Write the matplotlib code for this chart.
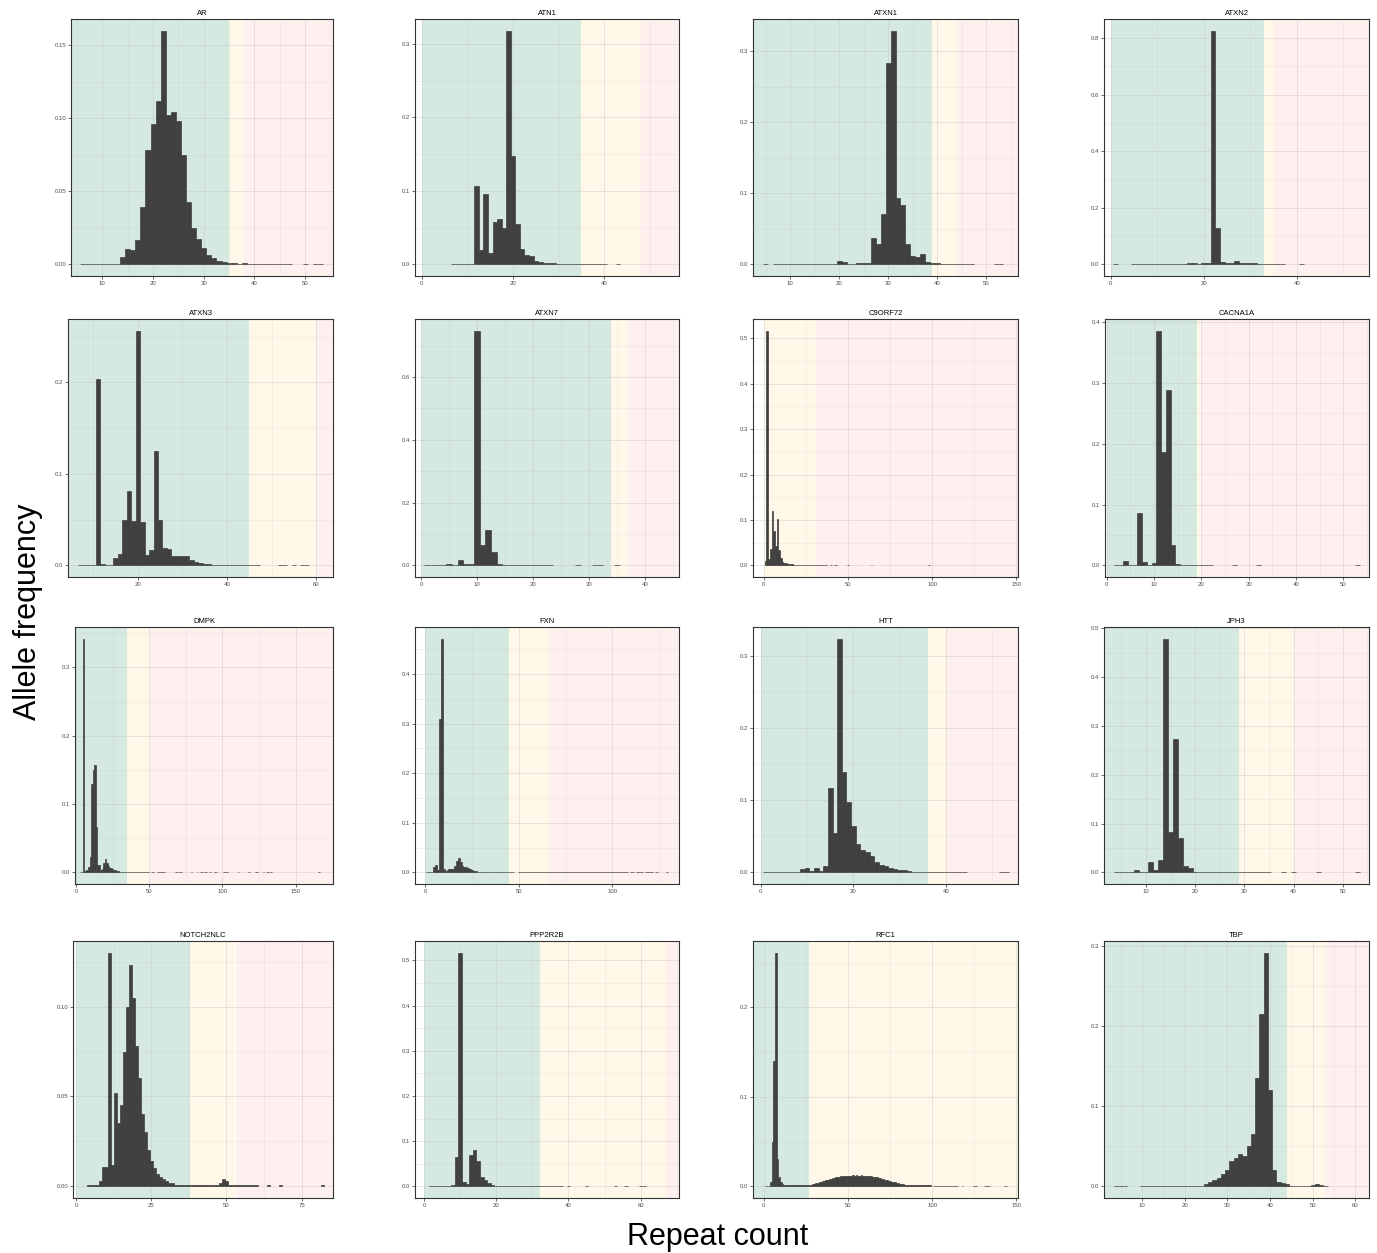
import numpy as np
import matplotlib.pyplot as plt
from matplotlib.ticker import MultipleLocator, FormatStrFormatter

plt.rcParams['font.family'] = ['Liberation Sans', 'DejaVu Sans']

# --- data: allele frequency per repeat count ---
# *_start = repeat count of first value in *_freq, *_trace = runs of rare alleles (trace level)
TRACE = 0.0005

AR_start = 14
AR_freq = [.0052, .0104, .0098, .0166, .039, .0785, .096, .112, .160, .102, .104, .098,
           .0746, .0426, .0247, .0172, .0109, .0063, .0041, .002, .0014, .001, .0008, .0005, .0008]
AR_trace = [(6, 13), (39, 47), (50, 50), (52, 53)]

ATN1_start = 12
ATN1_freq = [.106, .020, .096, .016, .057, .0615, .050, .318, .148, .055, .021, .013, .011,
             .005, .003, .002, .0015, .0015, .001]
ATN1_trace = [(7, 11), (31, 40), (43, 43)]

ATXN1_start = 20
ATXN1_freq = [.004, .003, .001, .001, .002, .002, .002, .037, .0285, .0707, .283, .329, .093,
              .084, .0285, .0117, .0103, .0145, .0033, .002, .0015]
ATXN1_trace = [(5, 5), (7, 19), (41, 47), (52, 53)]

ATXN2_start = 15
ATXN2_freq = [.002, .0005, .006, .003, .0005, .003, .003, .826, .127, .0094, .006, .003, .0106,
              .004, .004, .004, .003, .001, .001, .001, .001, .001, .001]
ATXN2_trace = [(1, 1), (5, 14), (41, 41)]

ATXN3_start = 11
ATXN3_freq = [.204, .0015, .0005, .0005, .0077, .0124, .0496, .0814, .0485, .2566, .0474, .011,
              .0168, .1245, .0496, .0186, .0175, .0106, .0106, .0106, .0106, .0058, .004, .0026,
              .0015, .0015]
ATXN3_trace = [(7, 10), (37, 47), (52, 53), (55, 55), (57, 58)]

ATXN7_start = 5
ATXN7_freq = [.003, .0005, .017, .003, .003, .748, .064, .112, .0416, .004]
ATXN7_trace = [(1, 4), (15, 23), (28, 28), (31, 32), (35, 35)]

C9ORF72_start = 1
C9ORF72_freq = [.01, .517, .013, .035, .119, .075, .043, .101, .033, .015, .007, .005, .004,
                .003, .002, .002, .002]
C9ORF72_trace = [(18, 37), (40, 40), (42, 43), (50, 50), (64, 64), (98, 98)]

CACNA1A_start = 4
CACNA1A_freq = [.0066, .0005, .0005, .0858, .005, .0005, .0033, .386, .187, .289, .033, .0017]
CACNA1A_trace = [(2, 3), (16, 22), (27, 27), (32, 32), (53, 53)]

DMPK_start = 5
DMPK_freq = [.342, .002, .004, .004, .008, .023, .13, .15, .157, .067, .01, .011, .004, .005,
             .013, .019, .013, .009, .007, .006, .005, .004, .003, .002, .002, .001]
DMPK_trace = [(3, 4), (31, 49), (52, 53), (56, 60), (68, 69), (71, 72), (79, 79), (83, 83),
              (85, 86), (88, 89), (91, 92), (95, 96), (101, 103), (111, 111), (118, 118),
              (123, 124), (128, 128), (130, 131), (133, 133), (166, 166)]

FXN_start = 5
FXN_freq = [.011, .015, .004, .31, .4715, .007, .003, .005, .007, .007, .007, .013, .022, .029,
            .02, .013, .011, .01, .008, .006, .005, .003, .002, .0015]
FXN_trace = [(1, 4), (29, 47), (50, 108), (110, 111), (113, 116), (118, 121), (123, 124),
             (129, 129)]

HTT_start = 9
HTT_freq = [.0046, .0065, .002, .0065, .002, .0088, .1165, .054, .3236, .1396, .097, .064, .039,
            .031, .0277, .023, .0139, .0102, .0088, .0065, .005, .0037, .003, .002, .001]
HTT_trace = [(1, 8), (34, 44), (52, 53)]

JPH3_start = 8
JPH3_freq = [.0048, .0005, .0005, .0205, .0048, .0253, .479, .0829, .273, .0705, .013, .0096]
JPH3_trace = [(4, 7), (20, 35), (38, 38), (40, 40), (45, 45), (53, 53)]

NOTCH2NLC_start = 8
NOTCH2NLC_freq = [.003, .011, .011, .13, .012, .052, .035, .045, .075, .1, .123, .105, .078,
                  .06, .04, .03, .02, .014, .01, .007, .005, .004, .003, .002, .002,
                  .0008, .0008, .0008, .0008, .0008, .0008, .0008, .0008, .0008, .0008, .0008,
                  .0008, .0008, .0008, .0008, .002, .004, .003]
NOTCH2NLC_trace = [(4, 7), (51, 60), (64, 64), (68, 68), (82, 82)]

PPP2R2B_start = 8
PPP2R2B_freq = [.002, .065, .517, .01, .005, .07, .08, .055, .02, .015, .008, .004]
PPP2R2B_trace = [(2, 7), (20, 38), (40, 40), (45, 45), (53, 53), (56, 56), (60, 61)]

RFC1_start = 4
RFC1_freq = [.005, .05, .14, .261, .03, .01, .005, .003, .002, .002, .001, .001, .001, .001,
             .001, .001, .001, .001, .001, .001, .001, .001, .001, .001,
             .002, .003, .003, .004, .004, .005, .005, .006, .006, .007, .007, .008, .008,
             .009, .009, .01, .01, .01, .011, .011, .011, .012, .012, .012, .012, .013, .012,
             .013, .012, .012, .013, .012, .012, .011, .012, .011, .011, .01, .01, .01, .009,
             .009, .008, .008, .007, .007, .006, .006, .005, .005, .005, .004, .004, .003,
             .003, .003, .002, .002, .002, .002, .0015, .0015, .0015, .001, .001, .001, .001,
             .001, .001, .001, .001, .001]
RFC1_trace = [(1, 3), (101, 115), (118, 118), (125, 126), (131, 134), (143, 144)]

TBP_start = 25
TBP_freq = [.003, .005, .008, .01, .015, .02, .032, .035, .04, .038, .05, .065, .135, .215,
            .292, .12, .02, .006, .004, .003, .001, .001, .001, .001, .001, .002, .003, .002,
            .001]
TBP_trace = [(4, 6), (10, 24)]

genes = ['AR', 'ATN1', 'ATXN1', 'ATXN2', 'ATXN3', 'ATXN7', 'C9ORF72', 'CACNA1A',
         'DMPK', 'FXN', 'HTT', 'JPH3', 'NOTCH2NLC', 'PPP2R2B', 'RFC1', 'TBP']
series = {g: (globals()[g + '_start'], globals()[g + '_freq'], globals()[g + '_trace'])
          for g in genes}

# normal / intermediate / pathogenic thresholds (band start, normal end, pathogenic start)
bands = {'AR': (None, 35, 38), 'ATN1': (0, 35, 48), 'ATXN1': (None, 39, 44),
         'ATXN2': (0, 33, 35), 'ATXN3': (None, 45, 60), 'ATXN7': (0, 34, 37),
         'C9ORF72': (0, 0, 31), 'CACNA1A': (0, 19, 20), 'DMPK': (0, 35, 50),
         'FXN': (0, 45, 66), 'HTT': (0, 36, 40), 'JPH3': (None, 29, 40),
         'NOTCH2NLC': (0, 38, 53), 'PPP2R2B': (0, 32, 67), 'RFC1': (None, 27, 400),
         'TBP': (None, 44, 53)}

# --- layout ---
xlims = {'AR': (3.8, 55.5), 'ATN1': (-1.5, 56.4), 'ATXN1': (2.4, 56.5), 'ATXN2': (-1.4, 55.5),
         'ATXN3': (4.3, 63.8), 'ATXN7': (-1.1, 46.1), 'C9ORF72': (-6.5, 151),
         'CACNA1A': (-0.35, 55.4), 'DMPK': (-0.7, 175.5), 'FXN': (-5.3, 135.5),
         'HTT': (-1.65, 55.5), 'JPH3': (1.45, 55.35), 'NOTCH2NLC': (-1, 85.4),
         'PPP2R2B': (-2.5, 70.6), 'RFC1': (-6.5, 151), 'TBP': (1.1, 63.2)}
xstep = {'AR': 10, 'ATN1': 20, 'ATXN1': 10, 'ATXN2': 20, 'ATXN3': 20, 'ATXN7': 10,
         'C9ORF72': 50, 'CACNA1A': 10, 'DMPK': 50, 'FXN': 50, 'HTT': 20, 'JPH3': 10,
         'NOTCH2NLC': 25, 'PPP2R2B': 20, 'RFC1': 50, 'TBP': 10}
ystep = {'AR': 0.05, 'ATXN2': 0.2, 'ATXN7': 0.2, 'NOTCH2NLC': 0.05}

W, H = 1377, 1253
lefts = [[71, 415, 753, 1104], [68, 415, 753, 1105], [75, 415, 753, 1104], [73, 415, 753, 1104]]
rights = [333, 679, 1018, 1369]
tops = [19, 319, 627, 941]
bottoms = [276, 577, 884, 1198]

GREEN, YELLOW, PINK = '#D5E9E1', '#FFF8E8', '#FFF0F0'
BAR = '#404040'

fig = plt.figure(figsize=(W / 100, H / 100), dpi=100)

for i, g in enumerate(genes):
    r, c = divmod(i, 4)
    l, rt, t, b = lefts[r][c], rights[c], tops[r], bottoms[r]
    ax = fig.add_axes([l / W, 1 - b / H, (rt - l) / W, (b - t) / H])
    x0, x1 = xlims[g]
    bs, n_end, p_start = bands[g]
    bs = x0 if bs is None else bs
    if n_end > bs:
        ax.axvspan(bs, n_end, color=GREEN, lw=0, zorder=0)
    ax.axvspan(n_end, min(p_start, x1), color=YELLOW, lw=0, zorder=0)
    if p_start < x1:
        ax.axvspan(p_start, x1, color=PINK, lw=0, zorder=0)

    start, freq, trace = series[g]
    for lo, hi in trace:
        xs = np.arange(lo, hi + 1)
        ax.bar(xs, np.full(len(xs), TRACE), width=1, color=BAR, edgecolor=BAR, lw=0.5, zorder=2)
    xs = np.arange(start, start + len(freq))
    ax.bar(xs, freq, width=1, color=BAR, edgecolor=BAR, lw=0.5, zorder=2)

    ymax = max(freq)
    ax.set_xlim(x0, x1)
    ax.set_ylim(-0.05 * ymax, 1.05 * ymax)

    xs_ = xstep[g]
    ys_ = ystep.get(g, 0.1)
    ax.xaxis.set_major_locator(MultipleLocator(xs_))
    ax.xaxis.set_minor_locator(MultipleLocator(xs_ / 2))
    ax.yaxis.set_major_locator(MultipleLocator(ys_))
    ax.yaxis.set_minor_locator(MultipleLocator(ys_ / 2))
    ax.xaxis.set_major_formatter(FormatStrFormatter('%d'))
    ax.yaxis.set_major_formatter(FormatStrFormatter('%.2f' if ys_ < 0.1 else '%.1f'))

    ax.set_axisbelow(True)
    ax.grid(which='major', color='#BDBDBD', alpha=0.35, lw=0.7)
    ax.grid(which='minor', color='#BDBDBD', alpha=0.3, lw=0.4)
    ax.tick_params(which='major', length=2, width=0.5, color='#333333',
                   labelsize=4.3, labelcolor='#4D4D4D', pad=1.5)
    ax.tick_params(which='minor', length=0)
    for s in ax.spines.values():
        s.set_color('#333333')
        s.set_linewidth(0.8)
    ax.set_title(g, fontsize=5.5, pad=3)

fig.text(28 / W, 1 - 612 / H, 'Allele frequency', rotation=90, fontsize=22,
         ha='center', va='center')
fig.text(718 / W, 1 - 1237 / H, 'Repeat count', fontsize=22, ha='center', va='center')

fig.savefig('out.png', dpi=100)
